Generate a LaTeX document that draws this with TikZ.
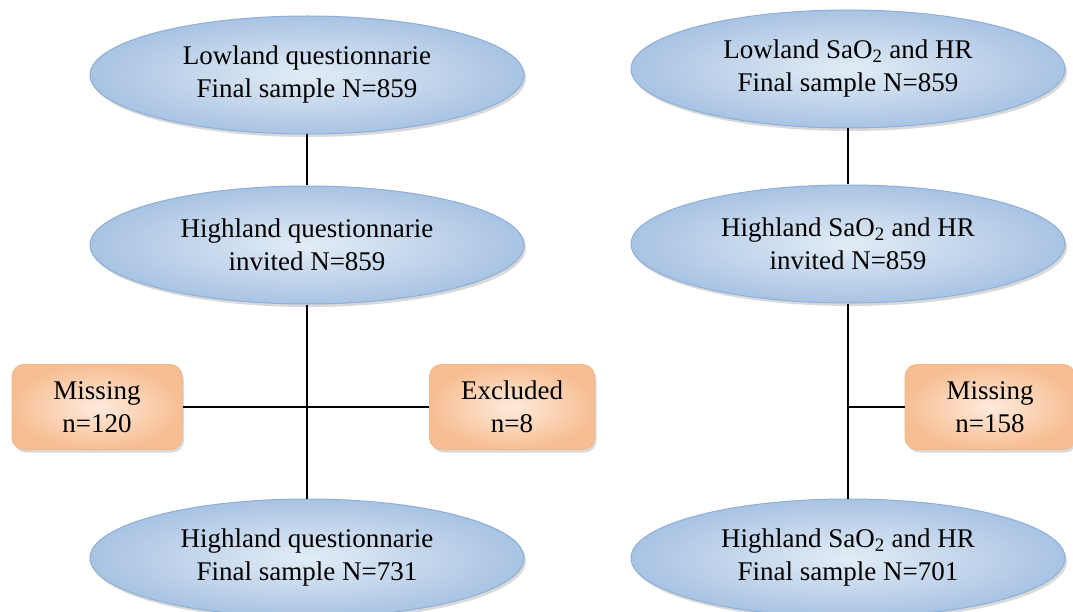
\documentclass[tikz,border=0pt]{standalone}
\usepackage{fontspec}
\setmainfont{Liberation Serif}
\usetikzlibrary{shapes.geometric,shadows}
\definecolor{ellborder}{HTML}{8EAFD8}
\definecolor{ellin}{HTML}{E2ECF6}
\definecolor{ellout}{HTML}{A9C3E3}
\definecolor{boxborder}{HTML}{F2B98C}
\definecolor{boxin}{HTML}{FEEBDD}
\definecolor{boxout}{HTML}{F7BE93}
\tikzset{
  ell/.style={ellipse, draw=ellborder, line width=1pt, inner sep=0pt,
    minimum width=434pt, minimum height=118pt,
    inner color=ellin, outer color=ellout,
    drop shadow={shadow xshift=2pt, shadow yshift=-3pt, opacity=0.3, fill=gray},
    font=\fontsize{27}{33}\selectfont, align=center},
  orangebox/.style={rectangle, rounded corners=12pt, draw=boxborder, line width=1pt,
    inner sep=0pt, minimum height=85pt,
    inner color=boxin, outer color=boxout,
    drop shadow={shadow xshift=2pt, shadow yshift=-3pt, opacity=0.3, fill=gray},
    font=\fontsize{27}{33}\selectfont, align=center},
  link/.style={draw=black, line width=1.2pt}
}
\begin{document}
\begin{tikzpicture}[x=1pt,y=-1pt]
\useasboundingbox (0,0) rectangle (1073,612);
% left column
\node[ell] (L1) at (307,75) {Lowland questionnarie\\Final sample N=859};
\node[ell] (L2) at (307,245) {Highland questionnarie\\invited N=859};
\node[ell] (L3) at (307,558) {Highland questionnarie\\Final sample N=731};
\node[orangebox, minimum width=170pt] (LM) at (97,407) {Missing\\n=120};
\node[orangebox, minimum width=165pt] (LE) at (512,407) {Excluded\\n=8};
% right column
\node[ell] (R1) at (848,69) {Lowland SaO\textsubscript{2} and HR\\Final sample N=859};
\node[ell] (R2) at (848,244) {Highland SaO\textsubscript{2} and HR\\invited N=859};
\node[ell] (R3) at (848,558) {Highland SaO\textsubscript{2} and HR\\Final sample N=701};
\node[orangebox, minimum width=170pt] (RM) at (990,407) {Missing\\n=158};
% connectors
\coordinate (RJ) at (848,407);
\draw[link] (L1.south) -- (L2.north);
\draw[link] (L2.south) -- (L3.north);
\draw[link] (LM.east) -- (LE.west);
\draw[link] (R1.south) -- (R2.north);
\draw[link] (R2.south) -- (R3.north);
\draw[link] (RJ) -- (RM.west);
\end{tikzpicture}
\end{document}
